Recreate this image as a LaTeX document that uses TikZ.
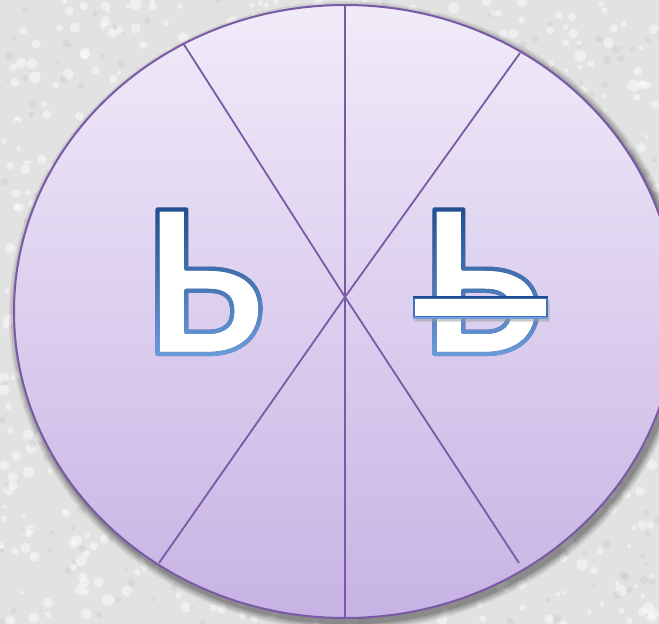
\documentclass[tikz,border=0pt]{standalone}
\usepackage{fontspec}
\newfontfamily\letterfont{Carlito}
\definecolor{bgray}{HTML}{E2E2E2}
\definecolor{wheeltop}{HTML}{F1EBF9}
\definecolor{wheelbot}{HTML}{C7B3E4}
\definecolor{wheelline}{HTML}{7A5AA6}
\definecolor{dkblue}{HTML}{1E4C8C}
\definecolor{mdblue}{HTML}{3F74BC}
\definecolor{ltblue}{HTML}{6E9EDD}
% outlined glyph: white fill, dark blue stroke (PDF text render mode 2)
\newcommand{\outlined}[1]{\special{pdf:literal direct 2 Tr 4.2 w 1 j 0.118 0.298 0.549 RG}#1\special{pdf:literal direct 0 Tr}}
\begin{document}
\begin{tikzpicture}[x=1pt,y=-1pt,
  glyph/.style={anchor=base west,inner sep=0pt,text=white,
    font=\letterfont\bfseries\fontsize{223}{223}\selectfont},
  spoke/.style={draw=wheelline,line width=1.8pt},
  barbox/.style={draw=mdblue,fill=white,line width=2.4pt,minimum width=133pt,minimum height=19pt,inner sep=0pt}]
\useasboundingbox (0,0) rectangle (659,624);
% textured background
\fill[bgray] (0,0) rectangle (659,624);
\begin{scope}
\clip (0,0) rectangle (659,624);
\pgfmathsetseed{11}
\foreach \i in {1,...,900}{
  \pgfmathsetmacro{\xx}{rnd*659}
  \pgfmathsetmacro{\yy}{rnd*624}
  \pgfmathsetmacro{\rr}{2+rnd*4}
  \fill[white,opacity=0.45] (\xx,\yy) circle[radius=\rr pt];
}
\foreach \i in {1,...,500}{
  \pgfmathsetmacro{\xx}{rnd*659}
  \pgfmathsetmacro{\yy}{rnd*624}
  \pgfmathsetmacro{\rr}{1.5+rnd*3}
  \fill[black!30,opacity=0.2] (\xx,\yy) circle[radius=\rr pt];
}
% wheel shadow
\foreach \s/\o in {8/0.08,6/0.1,4/0.12,2/0.15}{
  \fill[black,opacity=\o] (348,316) ellipse[x radius={331pt+\s pt},y radius={306.5pt+\s pt}];
}
\end{scope}
% wheel
\coordinate (W) at (345,311.5);
\shade[top color=wheeltop,bottom color=wheelbot] (W) ellipse[x radius=331pt,y radius=306.5pt];
\coordinate (C) at (345,297);
\coordinate (top) at (345,5);
\coordinate (bot) at (345,618);
\coordinate (tl) at (183,43);
\coordinate (br) at (519,563);
\coordinate (tr) at (520,53);
\coordinate (bl) at (159,563);
\draw[spoke] (top) -- (bot);
\draw[spoke] (tl) -- (C) -- (br);
\draw[spoke] (tr) -- (C) -- (bl);
\draw[draw=wheelline,line width=2pt] (W) ellipse[x radius=331pt,y radius=306.5pt];
% soft signs
\node[glyph] (L1) at (144,354) {\outlined{Ь}};
\node[glyph] (L2) at (421,354) {\outlined{Ь}};
% lighten the outline towards the bottom (only darker pixels change)
\foreach \gx in {0,277}{
  \shade[blend mode=lighten,top color=dkblue,middle color=mdblue,bottom color=ltblue]
    ({148+\gx},200) rectangle ({274+\gx},362);
}
% bar
\node[barbox,draw=black!40,fill=black!40,opacity=0.3] (bars) at (482,311) {};
\node[barbox] (bar) at (480.5,307.5) {};
\draw[dkblue,line width=2.4pt] (bar.north west) -- (bar.north east);
\draw[ltblue,line width=2.4pt] (bar.south west) -- (bar.south east);
\end{tikzpicture}
\end{document}
